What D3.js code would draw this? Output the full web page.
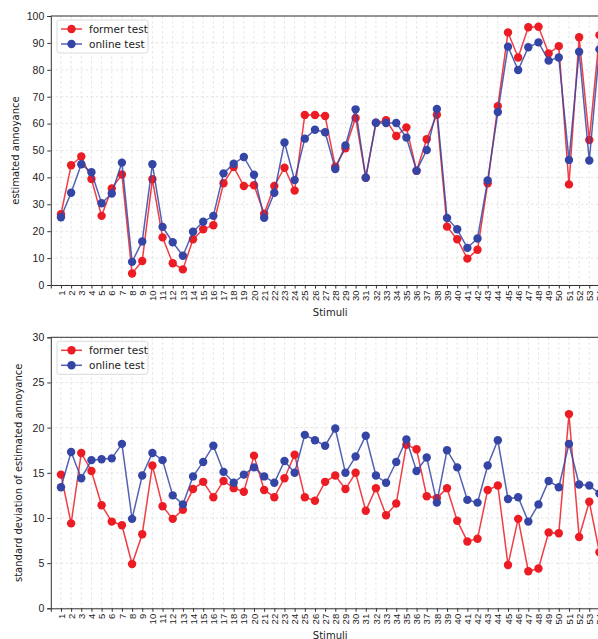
<!DOCTYPE html>
<html>
<head>
<meta charset="utf-8">
<script src="https://cdn.jsdelivr.net/npm/d3@7"></script>
<style>
  html, body { margin: 0; padding: 0; background: #fff; overflow: hidden; }
  svg { display: block; font-family: "DejaVu Sans", sans-serif; }
</style>
</head>
<body>
<svg id="chart" width="598" height="639"></svg>
<script>
// Stimulus numbers 1..54
const stimuli = Array.from({length: 54}, (_, i) => i + 1);

// Mean estimated annoyance per stimulus
const formerMean = [26.3, 44.5, 47.8, 39.4, 25.7, 35.9, 41.1, 4.3, 8.9, 39.3,
  17.7, 8.1, 5.8, 17.0, 20.7, 22.2, 37.8, 43.9, 36.8, 37.1,
  26.5, 36.8, 43.6, 35.1, 63.2, 63.2, 62.8, 44.0, 50.8, 62.1,
  39.9, 60.3, 61.3, 55.4, 58.6, 42.5, 54.2, 63.3, 21.7, 17.0,
  9.8, 13.1, 37.8, 66.5, 93.9, 84.6, 95.8, 96.0, 86.1, 88.8,
  37.4, 92.1, 53.9, 92.9];
const onlineMean = [25.2, 34.3, 44.9, 41.9, 30.4, 34.0, 45.5, 8.6, 16.2, 44.9,
  21.6, 15.9, 10.9, 19.8, 23.5, 25.7, 41.5, 45.1, 47.6, 41.0,
  25.0, 34.3, 53.0, 39.0, 54.4, 57.7, 56.8, 43.1, 51.9, 65.3,
  39.9, 60.3, 60.2, 60.2, 54.8, 42.5, 50.2, 65.4, 24.9, 20.7,
  13.8, 17.3, 38.9, 64.3, 88.6, 79.9, 88.4, 90.2, 83.4, 84.6,
  46.5, 86.7, 46.3, 87.6];

// Standard deviation of the estimated annoyance per stimulus
const formerStd = [14.8, 9.4, 17.2, 15.2, 11.4, 9.6, 9.2, 4.9, 8.2, 15.8,
  11.3, 9.9, 10.9, 13.2, 14.0, 12.3, 14.1, 13.3, 12.9, 16.9,
  13.1, 12.3, 14.4, 17.0, 12.3, 11.9, 14.0, 14.7, 13.2, 15.0,
  10.8, 13.3, 10.3, 11.6, 18.1, 17.6, 12.4, 12.2, 13.3, 9.7,
  7.4, 7.7, 13.1, 13.6, 4.8, 9.9, 4.1, 4.4, 8.4, 8.3,
  21.5, 7.9, 11.8, 6.2];
const onlineStd = [13.4, 17.3, 14.4, 16.4, 16.5, 16.6, 18.2, 9.9, 14.7, 17.2,
  16.4, 12.5, 11.5, 14.6, 16.2, 18.0, 15.1, 13.9, 14.8, 15.6,
  14.6, 13.9, 16.3, 15.0, 19.2, 18.6, 18.0, 19.9, 15.0, 16.8,
  19.1, 14.7, 13.9, 16.2, 18.7, 15.2, 16.7, 11.7, 17.5, 15.6,
  12.0, 11.7, 15.8, 18.6, 12.1, 12.3, 9.6, 11.5, 14.1, 13.4,
  18.2, 13.7, 13.6, 12.7];

const seriesNames = ["former test", "online test"];
const seriesColors = ["#ec1c24", "#3545a6"];

const meanTicks = [0, 10, 20, 30, 40, 50, 60, 70, 80, 90, 100];
const stdTicks = [0, 5, 10, 15, 20, 25, 30];

const svg = d3.select("#chart");
const x = d3.scaleLinear().domain([0, 55]).range([50.8, 609.6]);

function panel(opts) {
  const {top, bottom, yMax, yTicks, yTitle, titleX, data} = opts;
  const y = d3.scaleLinear().domain([0, yMax]).range([bottom, top]);
  const g = svg.append("g");

  // dashed grid
  g.append("g").selectAll("line.vx").data(stimuli).join("line")
    .attr("x1", d => x(d)).attr("x2", d => x(d))
    .attr("y1", top).attr("y2", bottom)
    .attr("stroke", "#dedede").attr("stroke-width", 0.8)
    .attr("stroke-dasharray", "2.5,2.5");
  g.append("g").selectAll("line.hy").data(yTicks).join("line")
    .attr("x1", x.range()[0]).attr("x2", x.range()[1])
    .attr("y1", d => y(d)).attr("y2", d => y(d))
    .attr("stroke", "#dedede").attr("stroke-width", 0.8)
    .attr("stroke-dasharray", "2.5,2.5");

  // series
  data.forEach((vals, si) => {
    const pts = stimuli.map((s, i) => [s, vals[i]]);
    const line = d3.line().x(d => x(d[0])).y(d => y(d[1]));
    g.append("path").datum(pts)
      .attr("fill", "none")
      .attr("stroke", seriesColors[si])
      .attr("stroke-opacity", 0.85)
      .attr("stroke-width", 1.5)
      .attr("d", line);
    g.append("g").selectAll("circle").data(pts).join("circle")
      .attr("cx", d => x(d[0])).attr("cy", d => y(d[1]))
      .attr("r", 4.2)
      .attr("fill", seriesColors[si]);
  });

  // axes
  const xAxis = d3.axisBottom(x).tickValues(stimuli).tickSizeOuter(0).tickSize(3.5).tickPadding(2);
  const xg = g.append("g").attr("transform", `translate(0,${bottom})`).call(xAxis);
  xg.select(".domain").attr("stroke", "#333").attr("stroke-width", 1);
  xg.selectAll(".tick line").attr("stroke", "#333");
  xg.selectAll(".tick text")
    .attr("fill", "#222").attr("font-size", 9.5)
    .attr("transform", "rotate(-90)")
    .attr("text-anchor", "end")
    .attr("x", -5.5).attr("y", 0).attr("dy", "0.33em");

  const yAxis = d3.axisLeft(y).tickValues(yTicks).tickSizeOuter(0).tickSize(3.5).tickPadding(3);
  const yg = g.append("g").attr("transform", `translate(${x.range()[0]},0)`).call(yAxis);
  yg.select(".domain").attr("stroke", "#333").attr("stroke-width", 1);
  yg.selectAll(".tick line").attr("stroke", "#333");
  yg.selectAll(".tick text").attr("fill", "#222").attr("font-size", 10.5);

  // top spine
  g.append("line").attr("x1", x.range()[0]).attr("x2", x.range()[1])
    .attr("y1", top).attr("y2", top).attr("stroke", "#333").attr("stroke-width", 1);

  // axis titles
  g.append("text")
    .attr("transform", `translate(${titleX},${(top + bottom) / 2}) rotate(-90)`)
    .attr("text-anchor", "middle").attr("font-size", 10).attr("fill", "#222")
    .text(yTitle);
  g.append("text")
    .attr("x", (x.range()[0] + x.range()[1]) / 2).attr("y", bottom + 31)
    .attr("text-anchor", "middle").attr("font-size", 10).attr("fill", "#222")
    .text("Stimuli");

  // legend
  const lg = g.append("g").attr("transform", `translate(57,${top + 4})`);
  lg.append("rect").attr("width", 91).attr("height", 33).attr("rx", 2.5)
    .attr("fill", "#fff").attr("fill-opacity", 0.85)
    .attr("stroke", "#d0d0d0").attr("stroke-width", 0.8);
  seriesNames.forEach((name, i) => {
    const cy = 9 + i * 15;
    lg.append("line").attr("x1", 4).attr("x2", 25).attr("y1", cy).attr("y2", cy)
      .attr("stroke", seriesColors[i]).attr("stroke-width", 1.5).attr("stroke-opacity", 0.85);
    lg.append("circle").attr("cx", 14.5).attr("cy", cy).attr("r", 4.2).attr("fill", seriesColors[i]);
    lg.append("text").attr("x", 32).attr("y", cy).attr("dy", "0.35em")
      .attr("font-size", 10.5).attr("fill", "#222").text(name);
  });
}

panel({top: 16, bottom: 285, yMax: 100, yTicks: meanTicks,
  yTitle: "estimated annoyance", titleX: 19, data: [formerMean, onlineMean]});
panel({top: 337.3, bottom: 608.3, yMax: 30, yTicks: stdTicks,
  yTitle: "standard deviation of estimated annoyance", titleX: 22, data: [formerStd, onlineStd]});
</script>
</body>
</html>
